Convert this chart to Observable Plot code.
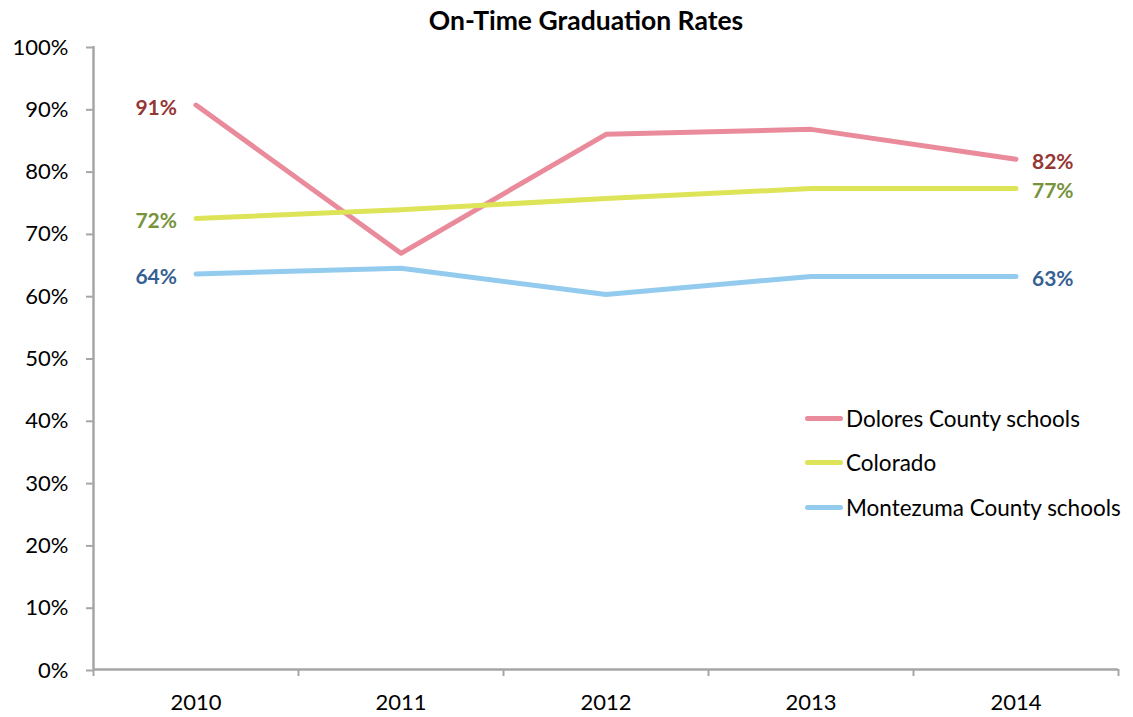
<!DOCTYPE html>
<html>
<head>
<meta charset="utf-8">
<script src="https://cdn.jsdelivr.net/npm/d3@7"></script>
<script src="https://cdn.jsdelivr.net/npm/@observablehq/plot@0.6"></script>
<style>
  html, body { margin: 0; padding: 0; background: #fff; }
  #wrap { position: relative; width: 1133px; height: 717px; font-family: Lato, "Open Sans", sans-serif; }
  #title { position: absolute; left: 0; width: 1172px; top: 4px; text-align: center; font-weight: bold; font-size: 26.5px; color: #000; }
  #legend { position: absolute; left: 805px; top: 396px; font-size: 22.5px; color: #000; }
  .row { display: flex; align-items: center; height: 44.5px; }
  .sw { width: 38px; height: 5px; border-radius: 3px; margin-right: 3px; }
</style>
</head>
<body>
<div id="wrap">
  <div id="chart"></div>
  <div id="title">On-Time Graduation Rates</div>
  <div id="legend"></div>
</div>
<script>
const years = [2010, 2011, 2012, 2013, 2014];
const seriesNames = ["Dolores County schools", "Colorado", "Montezuma County schools"];
const dolores = [90.6, 66.8, 85.9, 86.7, 81.9];
const colorado = [72.4, 73.8, 75.6, 77.2, 77.2];
const montezuma = [63.5, 64.4, 60.2, 63.1, 63.1];
const yTicks = [0, 10, 20, 30, 40, 50, 60, 70, 80, 90, 100];
const lineColors = ["#EA8B9C", "#DDE457", "#93CBEF"];
const labelColors = ["#953735", "#77933C", "#376092"];

const seriesValues = [dolores, colorado, montezuma];
const data = [];
seriesNames.forEach((s, i) => years.forEach((y, j) => data.push({series: s, year: y, value: seriesValues[i][j], idx: i})));
const first = data.filter(d => d.year === years[0]);
const last = data.filter(d => d.year === years[years.length - 1]);
const bounds = [...years.map(y => y - 0.5), years[years.length - 1] + 0.5];
const axisColor = "#A6A6A6";

const chart = Plot.plot({
  width: 1133,
  height: 717,
  marginLeft: 93,
  marginRight: 15,
  marginTop: 46,
  marginBottom: 48,
  style: {fontFamily: "Lato, 'Open Sans', sans-serif", background: "#fff"},
  x: {domain: [bounds[0], bounds[bounds.length - 1]]},
  y: {domain: [0, 100]},
  color: {domain: seriesNames, range: lineColors},
  marks: [
    Plot.axisY({ticks: yTicks, tickFormat: d => d + "%", tickSize: 7, tickPadding: 18, fontSize: 22, stroke: axisColor, strokeWidth: 2, fill: "#000", label: null, dy: 1}),
    Plot.axisX({ticks: bounds, tickFormat: () => "", tickSize: 7, stroke: axisColor, strokeWidth: 2, label: null}),
    Plot.axisX({ticks: years, tickFormat: d => String(d), tickSize: 0, tickPadding: 25, fontSize: 22, fill: "#000", label: null}),
    Plot.ruleX([bounds[0]], {stroke: axisColor, strokeWidth: 2.5}),
    Plot.ruleY([0], {stroke: axisColor, strokeWidth: 2.5}),
    Plot.line(data, {x: "year", y: "value", z: "series", stroke: "series", strokeWidth: 5, strokeLinecap: "round", strokeLinejoin: "round"}),
    Plot.text(first, {x: "year", y: "value", text: d => Math.round(d.value) + "%", textAnchor: "end", dx: -19, dy: 3, fontSize: 21, fontWeight: "bold", fill: d => labelColors[d.idx]}),
    Plot.text(last, {x: "year", y: "value", text: d => Math.round(d.value) + "%", textAnchor: "start", dx: 16, dy: 3, fontSize: 21, fontWeight: "bold", fill: d => labelColors[d.idx]})
  ]
});
document.getElementById("chart").appendChild(chart);

const legend = document.getElementById("legend");
seriesNames.forEach((s, i) => {
  const row = document.createElement("div");
  row.className = "row";
  const sw = document.createElement("div");
  sw.className = "sw";
  sw.style.background = lineColors[i];
  const t = document.createElement("span");
  t.textContent = s;
  row.appendChild(sw);
  row.appendChild(t);
  legend.appendChild(row);
});
</script>
</body>
</html>
